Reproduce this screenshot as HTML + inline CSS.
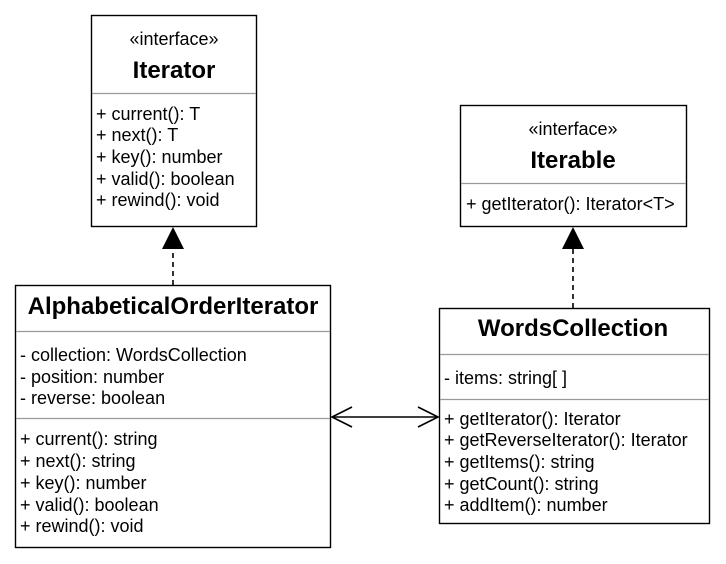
<!DOCTYPE html>
<html><head><meta charset="utf-8"><style>
html,body{margin:0;padding:0;background:#fff;}
svg{display:block;}
text{font-family:"Liberation Sans",Arial,sans-serif;fill:#000;}
.b{font-weight:bold;font-size:24px;}
.t{font-size:18px;}
</style></head><body>
<svg width="726" height="564" viewBox="0 0 726 564" xmlns="http://www.w3.org/2000/svg">
<rect width="726" height="564" fill="#fff"/>
<g fill="#fff" stroke="#000" stroke-width="1.4">
<rect x="91.5" y="15.5" width="165" height="211"/>
<rect x="460.5" y="105.5" width="226" height="121"/>
<rect x="15.5" y="285.5" width="315" height="262"/>
<rect x="439.5" y="308.5" width="270" height="215"/>
</g>
<g stroke="#999" stroke-width="1.2">
<line x1="92" y1="93.5" x2="256" y2="93.5"/>
<line x1="461" y1="183.5" x2="686" y2="183.5"/>
<line x1="16" y1="331.5" x2="330" y2="331.5"/>
<line x1="16" y1="418.5" x2="330" y2="418.5"/>
<line x1="440" y1="354.5" x2="709" y2="354.5"/>
<line x1="440" y1="399.5" x2="709" y2="399.5"/>
</g>
<g stroke="#000" stroke-width="1.6" stroke-dasharray="5,4">
<line x1="173" y1="285" x2="173" y2="249"/>
<line x1="573" y1="308" x2="573" y2="249"/>
</g>
<polygon points="162,249 184,249 173,227" fill="#000"/>
<polygon points="562,249 584,249 573,227" fill="#000"/>
<g stroke="#000" stroke-width="1.6" fill="none">
<line x1="332" y1="417" x2="438" y2="417"/>
<polyline points="352,407 332,417 352,427"/>
<polyline points="418,407 438,417 418,427"/>
</g>
<text class="t" x="174" y="45" text-anchor="middle">«interface»</text>
<text class="b" x="174" y="78" text-anchor="middle">Iterator</text>
<text class="t" x="96" y="120">+ current(): T</text>
<text class="t" x="96" y="141">+ next(): T</text>
<text class="t" x="96" y="163">+ key(): number</text>
<text class="t" x="96" y="185">+ valid(): boolean</text>
<text class="t" x="96" y="206">+ rewind(): void</text>
<text class="t" x="573" y="135" text-anchor="middle">«interface»</text>
<text class="b" x="573" y="168" text-anchor="middle">Iterable</text>
<text class="t" x="466" y="210">+ getIterator(): Iterator&lt;T&gt;</text>
<text class="b" x="173" y="314" text-anchor="middle">AlphabeticalOrderIterator</text>
<text class="t" x="20" y="361">- collection: WordsCollection</text>
<text class="t" x="20" y="383">- position: number</text>
<text class="t" x="20" y="404">- reverse: boolean</text>
<text class="t" x="20" y="445">+ current(): string</text>
<text class="t" x="20" y="467">+ next(): string</text>
<text class="t" x="20" y="489">+ key(): number</text>
<text class="t" x="20" y="511">+ valid(): boolean</text>
<text class="t" x="20" y="532">+ rewind(): void</text>
<text class="b" x="573" y="336" text-anchor="middle">WordsCollection</text>
<text class="t" x="444" y="384">- items: string[ ]</text>
<text class="t" x="444" y="425">+ getIterator(): Iterator</text>
<text class="t" x="444" y="446">+ getReverseIterator(): Iterator</text>
<text class="t" x="444" y="468">+ getItems(): string</text>
<text class="t" x="444" y="490">+ getCount(): string</text>
<text class="t" x="444" y="511">+ addItem(): number</text>
</svg>
</body></html>
